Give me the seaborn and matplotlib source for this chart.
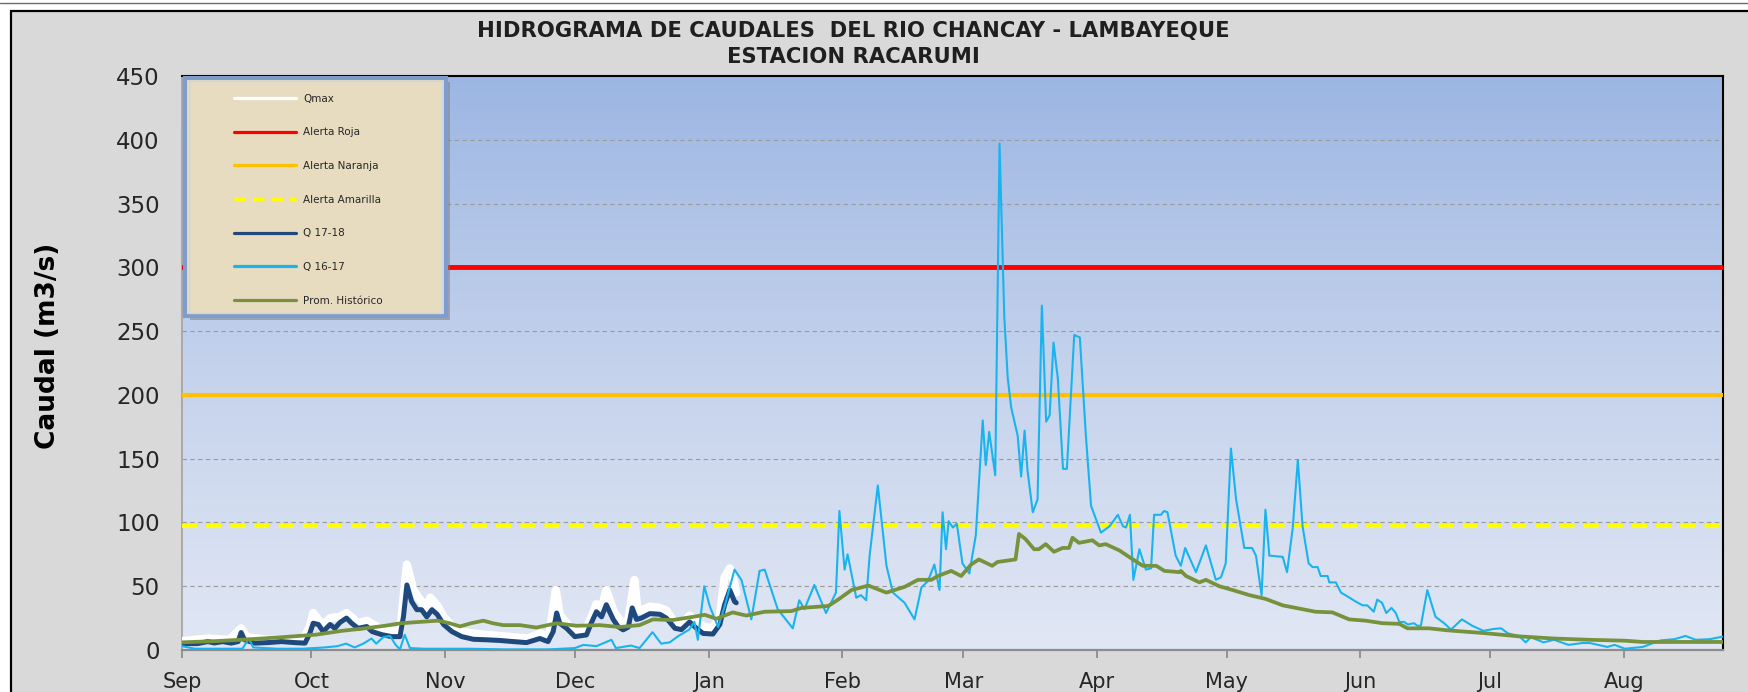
import numpy as np
import pandas as pd
import seaborn as sns
import matplotlib.pyplot as plt
import matplotlib.dates as mdates
from matplotlib.colors import LinearSegmentedColormap
from matplotlib.patches import Rectangle
from matplotlib.lines import Line2D

# Hidrograma Rio Chancay - estacion Racarumi (dias contados desde el 1 de setiembre)
inicio = pd.Timestamp("2017-09-01")

q1617_dia = [0, 3, 8, 14, 15.5, 16.5, 22, 28, 33, 36, 38, 40, 42, 43.9, 45, 46.6, 48.2, 49.5, 50.5,
             51.6, 52.8, 56, 60, 66, 75, 85, 91, 93, 96, 99.5, 100.5, 104, 106, 109, 111, 113, 115,
             117.5, 118.7, 119.5, 121, 122.3, 124.2, 125.7, 128, 129.6, 131.9, 133.8, 135, 138,
             141.5, 143, 144.2, 146.5, 149.2, 151.5, 152.3, 153.5, 154.2, 156.2, 157.3, 158.5, 159.3,
             161.2, 163.2, 164.7, 167.4, 169.7, 171.3, 172.8, 174.3, 175.5, 176.2, 177, 177.6, 178.6,
             179.5, 180.8, 182.4, 183.9, 185.5, 186.2, 187, 188.4, 189.4, 190.5, 191.3, 192.1, 193.6,
             194.4, 195.2, 195.9, 197.1, 198.2, 199.2, 200.2, 201, 201.9, 202.9, 204.1, 205, 206.7,
             208, 209.4, 210.6, 211.7, 212.9, 214.9, 216.8, 218, 218.7, 219.6, 220.4, 221.8, 223.3,
             224.5, 225.2, 226.8, 227.5, 228.3, 230.2, 231.4, 232.4, 234.9, 237.2, 239.5, 240.7,
             241.8, 243, 244.2, 246.1, 247.9, 248.8, 250.1, 251, 251.9, 255, 256, 257.3, 258.5,
             259.6, 261, 261.9, 263.1, 263.8, 265.4, 265.8, 267.3, 268.5, 270, 271.9, 273.5, 274.6,
             276.1, 276.9, 278, 279, 280.2, 281.2, 282, 283.1, 284, 285.4, 286.2, 287, 288.5, 290.4,
             292.4, 294, 296.5, 298.9, 301.5, 303.9, 305.6, 307.2, 309.7, 311.3, 312.5, 315.4, 317.9,
             321.2, 324.5, 326.1, 330.2, 331.9, 334.3, 338.4, 342.5, 345.8, 348.3, 350.7, 354, 356.9]
q1617_val = [3, 1, 1, 1, 9, 2, 1, 1, 2, 3, 5, 2, 5, 9, 5, 10, 11, 4, 0.5,
             12, 1.5, 1, 1, 1, 0.5, 0.5, 1.5, 4, 3, 8, 1.5, 3.5, 1.5, 14, 5, 6, 11,
             16, 22, 8, 50, 34, 18, 34, 63, 55, 24, 62, 63, 32,
             17, 39, 32, 51, 29, 45, 109, 63, 75, 41, 43, 39, 74,
             129, 66, 45, 37, 24, 49, 54, 67, 47, 108, 79, 101, 96,
             99, 68, 60, 90, 180, 145, 171, 137, 397, 261, 213, 190, 168,
             136, 172, 140, 108, 118, 270, 179, 184, 241, 213, 142, 142, 247,
             245, 168, 113, 103, 92, 97, 106, 97, 96, 106, 55, 79, 63,
             64, 106, 106, 109, 108, 74, 66, 80, 61, 82, 55, 57,
             68, 158, 118, 80, 80, 74, 43, 110, 74, 73, 61, 95, 149,
             97, 68, 65, 65, 58, 58, 53, 53, 45, 42, 38, 35, 35,
             30, 39.5, 37, 29, 33, 29, 22, 22, 20, 21, 19, 19, 47, 26,
             21, 16, 24, 19, 15, 16.5, 17, 13, 11, 6, 10, 6, 8,
             4, 5.5, 5.5, 2.4, 4, 1, 2.4, 7.5, 8.5, 11, 8, 8.5, 10.5]

q1718_dia = [0, 3.6, 6, 7.5, 9.4, 11.4, 13, 13.7, 14.5, 16.8, 19.9, 23, 26.1, 28.5, 29.6, 30.4,
             31.6, 32.7, 34.3, 35.4, 36.6, 38.1, 39.3, 40.8, 42.8, 44, 46.3, 48.6, 50.5, 51.3, 52.1,
             53.2, 54.4, 55.5, 56.7, 57.9, 59.1, 60.6, 62.5, 64.8, 67.5, 70.6, 73.6, 76.7, 79.8,
             82.9, 84.8, 86, 86.8, 87.5, 89.1, 91, 93.7, 94.8, 96, 97.2, 98.3, 99.9, 101, 102.2,
             103.4, 104.3, 105.3, 106.4, 108.4, 110.7, 112.2, 114.2, 115.7, 117.6, 119.2, 120.7,
             123, 124.6, 125.7, 126.9, 128, 128.4]
q1718_val = [5, 5, 6.6, 5.5, 6.6, 5.4, 6.6, 13.7, 8, 5.4, 5.8, 6.6, 5.8, 5.4, 13, 21,
             20, 14.5, 20, 17, 21.6, 25, 21, 17, 18.4, 14.5, 12, 10.5, 10.5, 26, 51,
             38, 31.6, 31.6, 26, 31.6, 28, 20, 14.5, 10.5, 8.4, 8, 7.5, 6.6, 5.8,
             9, 6.6, 14.5, 29, 21, 17, 10.5, 11.8, 21, 30, 26, 35.5, 24, 18.4, 15.8,
             18, 33, 24, 25, 28.5, 28, 25, 17, 16, 22, 17, 13,
             12.5, 20, 35.5, 47, 38, 37]

qmax_dia = [0, 6, 11, 13.7, 15, 20, 28, 29.6, 30.4, 32.7, 34.3, 36.6, 38.1, 40.8, 42.8, 46.3, 50.5,
            52.1, 53.5, 54.8, 56.7, 57.5, 59.1, 60.6, 62.5, 65, 70, 76.7, 80, 83, 85, 86.6, 87.5,
            89.1, 91, 93.7, 95, 96, 97.2, 98.3, 100, 102, 103.4, 104.8, 105.5, 106.4, 108.4, 110.7,
            112.2, 114.2, 115.7, 117.6, 119.2, 121, 123, 124.6, 125.7, 126.9, 128, 128.4]
qmax_val = [7, 9, 8, 17, 10, 8, 8, 18, 29, 19, 25, 26, 29, 21, 23, 16, 14,
            67, 48, 41, 33, 41, 35, 26, 19, 14, 12, 10, 9, 13, 10, 47, 28,
            21, 14, 17, 27, 36, 32, 47, 30, 21, 23, 55, 32, 31, 34, 33,
            31, 21, 20, 27, 22, 18, 17, 26, 57, 64, 52, 45]

prom_dia = [0, 8, 15.6, 23, 31, 37, 42.4, 47, 50.8, 55, 59.3, 62, 64.4, 67, 69.8, 72, 74.4, 78.3,
            82.1, 86.8, 91.4, 96.8, 101.4, 106, 109.1, 113.7, 118.4, 121.1, 123.8, 127.6, 130.7,
            135, 141.2, 143.5, 149.7, 152, 155.1, 159, 163.2, 167.4, 170.5, 173.6, 175.1, 178.2,
            180.5, 182.8, 184.6, 187.7, 188.9, 193.1, 193.9, 195.4, 197.4, 198.5, 200.1, 202, 204,
            205.5, 206.3, 207.8, 210.9, 212.5, 214, 217.2, 220.3, 222.6, 225.7, 227.6, 229.5,
            231.1, 231.4, 232.6, 235.7, 237.2, 240.3, 243.4, 247.3, 251.1, 255, 258.8, 262.6,
            266.5, 270.4, 274.2, 278.1, 282, 283.9, 288.9, 293.2, 301.5, 309.7, 317.9, 326.1,
            334.3, 338.4, 357]
prom_val = [6, 7, 8.4, 10, 12, 15, 17, 19, 21, 22, 23, 21, 18.5, 21, 23, 21, 19.5, 19.5,
            17.6, 21, 19, 19.5, 18, 19.5, 24, 23.5, 26, 27.6, 24.5, 29.5, 27,
            30, 30.5, 33, 34.5, 39.5, 47, 50.5, 45, 49.5, 55, 55, 58, 62,
            58, 67, 71, 66, 69, 71, 91, 87, 79, 79, 83, 77, 80,
            80, 88, 84, 86, 82, 83, 78, 71, 66, 66, 62, 61.5,
            61, 62, 58, 53, 55, 50, 47, 43, 40, 35, 32.5, 30,
            29.5, 24, 23, 21, 20.5, 17, 17, 15.4, 13.3, 10.7, 9, 8,
            7.3, 6.3, 6.3]

alerta_roja = 300
alerta_naranja = 200
alerta_amarilla = 97

orden = ["Qmax", "Alerta Roja", "Alerta Naranja", "Alerta Amarilla", "Q 17-18", "Q 16-17", "Prom. Histórico"]


def serie(dias, valores):
    return pd.DataFrame({"fecha": inicio + pd.to_timedelta(dias, unit="D"), "Q": valores})


sns.set_style("white")
plt.rcParams["font.family"] = ["DejaVu Sans"]

fig = plt.figure(figsize=(17.49, 6.92), dpi=100, facecolor="white")
fig.patches.append(Rectangle((11 / 1749, -0.05), 1.1, 1 - 11 / 692 + 0.05, transform=fig.transFigure,
                             facecolor="#d9d9d9", edgecolor="black", lw=1.6, zorder=-10))
fig.lines.append(Line2D([0, 1], [1 - 3 / 692] * 2, transform=fig.transFigure, color="#6b6b6b", lw=1))

ax = fig.add_axes([182 / 1749, 1 - 650 / 692, 1541 / 1749, 574 / 692])

# fondo degradado del area de trazado
fondo = LinearSegmentedColormap.from_list("fondo", ["#e1e7f4", "#c4d2ec", "#9cb6e3"])
ax.imshow(np.linspace(0, 1, 256).reshape(-1, 1), aspect="auto", cmap=fondo, origin="lower",
          extent=[0, 1, 0, 1], transform=ax.transAxes, zorder=0)

sns.lineplot(data=serie(qmax_dia, qmax_val), x="fecha", y="Q", color="white", lw=6,
             label="Qmax", ax=ax, zorder=3)
ax.axhline(alerta_roja, color="#ff0000", lw=3.5, label="Alerta Roja", zorder=4)
ax.axhline(alerta_naranja, color="#ffc000", lw=3, label="Alerta Naranja", zorder=4)
ax.axhline(alerta_amarilla, color="#ffff00", lw=3, ls=(0, (3.6, 2.2)), label="Alerta Amarilla", zorder=4)
sns.lineplot(data=serie(q1718_dia, q1718_val), x="fecha", y="Q", color="#1f497d", lw=3.6,
             label="Q 17-18", ax=ax, zorder=5)
sns.lineplot(data=serie(q1617_dia, q1617_val), x="fecha", y="Q", color="#19b4ee", lw=1.5,
             label="Q 16-17", ax=ax, zorder=6)
sns.lineplot(data=serie(prom_dia, prom_val), x="fecha", y="Q", color="#76923c", lw=2.7,
             label="Prom. Histórico", ax=ax, zorder=7)

ax.set_xlim(inicio, inicio + pd.Timedelta(days=357))
ax.set_ylim(0, 450)
ax.set_yticks(range(0, 451, 50))
ax.xaxis.set_major_locator(mdates.MonthLocator())
ax.xaxis.set_major_formatter(mdates.DateFormatter("%b"))
ax.set_axisbelow(True)
ax.yaxis.grid(True, ls=(0, (4, 3)), color="#9a9a9a", lw=0.8)
ax.xaxis.grid(False)

ax.tick_params(axis="x", direction="out", length=6, width=1.3, color="#8c8c8c", pad=10,
               labelsize=15, labelcolor="#262626", bottom=True)
ax.tick_params(axis="y", length=0, pad=16, labelsize=16.5, labelcolor="#262626")

for lado in ["top", "right"]:
    ax.spines[lado].set_color("black")
    ax.spines[lado].set_linewidth(1.5)
ax.spines["left"].set_color("#a6a6a6")
ax.spines["left"].set_linewidth(1.3)
ax.spines["bottom"].set_color("#8c8c8c")
ax.spines["bottom"].set_linewidth(1.6)

ax.set_xlabel("")
ax.set_ylabel("Caudal (m3/s)", fontsize=19, fontweight="bold", color="black")
ax.yaxis.set_label_coords(-0.0785, 0.53)

fig.text(0.488, 1 - 31 / 692, "HIDROGRAMA DE CAUDALES  DEL RIO CHANCAY - LAMBAYEQUE", ha="center",
         va="center", fontsize=15.2, fontweight="bold", color="#1f1f1f")
fig.text(0.488, 1 - 57 / 692, "ESTACION RACARUMI", ha="center", va="center", fontsize=15.2,
         fontweight="bold", color="#1f1f1f")

# caja de la leyenda
ax.add_patch(Rectangle((0.005, 0.575), 0.169, 0.414, transform=ax.transAxes, facecolor="#7a7a7a",
                       edgecolor="none", alpha=0.5, zorder=14, clip_on=False))
ax.add_patch(Rectangle((0.002, 0.582), 0.169, 0.414, transform=ax.transAxes, facecolor="#e8dcc0",
                       edgecolor="#7f9dcc", lw=3, zorder=15, clip_on=False))
ax.add_patch(Rectangle((0.0045, 0.587), 0.164, 0.404, transform=ax.transAxes, facecolor="none",
                       edgecolor="#c9d5e8", lw=1, zorder=15, clip_on=False))

h, l = ax.get_legend_handles_labels()
hd = dict(zip(l, h))
leg = ax.legend([hd[k] for k in orden], orden, loc="upper left", bbox_to_anchor=(0.0337, 0.969),
                frameon=False, fontsize=7.5, handlelength=6.0, handletextpad=0.65, labelspacing=2.27,
                borderpad=0, borderaxespad=0)
for linea in leg.get_lines():
    linea.set_linewidth(2.3)
leg.set_zorder(20)

fig.savefig("out.png", dpi=100)
